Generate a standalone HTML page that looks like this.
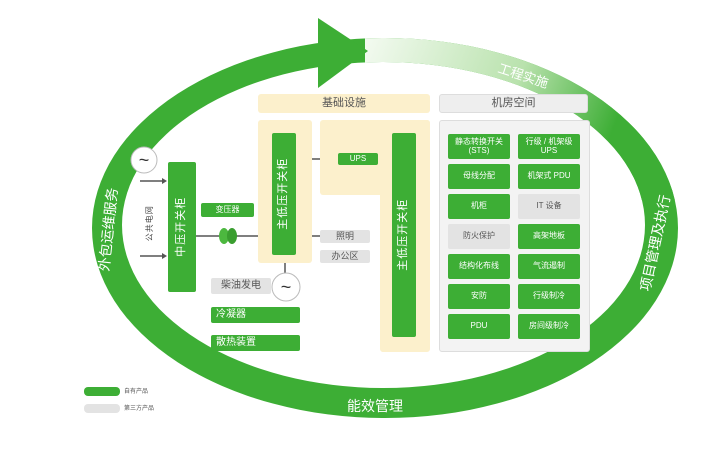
<!DOCTYPE html>
<html><head><meta charset="utf-8"><style>
body{margin:0;width:713px;height:470px;background:#fff;overflow:hidden;position:relative;font-family:"Liberation Sans","Noto Sans CJK SC",sans-serif}
.a{position:absolute;box-sizing:border-box;display:flex;align-items:center;justify-content:center;text-align:center;line-height:1.05}
.g{background:#3dae35;color:#fff;border-radius:2px}
.gr{background:#e3e3e3;color:#555;border-radius:2px}
.y{background:#fcf0cc;border-radius:3px}
.v span{transform:rotate(-90deg);white-space:nowrap;display:block;letter-spacing:1px}
.t{font-size:8px}
</style></head><body>
<svg width="713" height="470" style="position:absolute;left:0;top:0">
<defs>
<clipPath id="ring"><path clip-rule="evenodd" d="M92,228a293,190 0 1,0 586,0a293,190 0 1,0 -586,0ZM122,225a261.5,163 0 1,0 523,0a261.5,163 0 1,0 -523,0Z"/></clipPath>
<linearGradient id="fade" x1="367" y1="45" x2="650" y2="160" gradientUnits="userSpaceOnUse">
<stop offset="0" stop-color="#f2faef"/><stop offset="0.5" stop-color="#b9e2ad"/><stop offset="0.85" stop-color="#3dae35"/><stop offset="1" stop-color="#3dae35"/></linearGradient>
</defs>
<path fill="#3dae35" fill-rule="evenodd" d="M92,228a293,190 0 1,0 586,0a293,190 0 1,0 -586,0ZM122,225a261.5,163 0 1,0 523,0a261.5,163 0 1,0 -523,0Z"/>
<rect x="365" y="0" width="340" height="200" fill="url(#fade)" clip-path="url(#ring)"/>
<polygon points="318,18 368,51 318,88" fill="#3dae35"/>
<text x="497" y="72" font-size="13" fill="#fff" transform="rotate(18 497 72)" font-family="Noto Sans CJK SC">工程实施</text>
<text x="375" y="411" font-size="14" fill="#fff" text-anchor="middle" font-family="Noto Sans CJK SC">能效管理</text>
<text x="113" y="230" font-size="14" fill="#fff" text-anchor="middle" transform="rotate(-84 113 230)" font-family="Noto Sans CJK SC">外包运维服务</text>
<text x="660" y="244" font-size="14" fill="#fff" text-anchor="middle" transform="rotate(-78 660 244)" font-family="Noto Sans CJK SC">项目管理及执行</text>
<g stroke="#555" stroke-width="1.5" fill="none">
<line x1="140" y1="181" x2="162" y2="181"/><line x1="140" y1="256" x2="162" y2="256"/>
<line x1="196" y1="236" x2="320" y2="236"/>
<line x1="285" y1="255" x2="285" y2="274"/>
<line x1="296" y1="159" x2="330" y2="159"/><line x1="378" y1="159" x2="388" y2="159"/>
</g>
<g fill="#555"><polygon points="162,178 167,181 162,184"/><polygon points="162,253 167,256 162,259"/><polygon points="330,156 336,159 330,162"/><polygon points="387,156 392,159 387,162"/></g>
<circle cx="144" cy="160" r="13" fill="#fff" stroke="#bbb"/>
<text x="144" y="166" font-size="18" text-anchor="middle" fill="#333">~</text>
<circle cx="286" cy="287" r="14" fill="#fff" stroke="#bbb"/>
<text x="286" y="293" font-size="18" text-anchor="middle" fill="#333">~</text>
<ellipse cx="224" cy="236" rx="5" ry="8" fill="#4cb83f"/><ellipse cx="232" cy="236" rx="5" ry="8" fill="#3a9e30"/>
</svg>
<div class="a y" style="left:258px;top:94px;width:172px;height:19px;font-size:11px;color:#555">基础设施</div>
<div class="a y" style="left:258px;top:120px;width:54px;height:143px"></div>
<div class="a y" style="left:320px;top:120px;width:110px;height:75px"></div>
<div class="a y" style="left:380px;top:120px;width:50px;height:232px"></div>
<div class="a" style="left:439px;top:94px;width:149px;height:19px;font-size:11px;color:#555;background:#eee;border:1px solid #ddd;border-radius:3px">机房空间</div>
<div class="a" style="left:439px;top:120px;width:151px;height:232px;background:#f3f3f3;border:1px solid #ddd;border-radius:3px"></div>
<div class="a g v" style="left:272px;top:133px;width:24px;height:122px;font-size:11px"><span>主低压开关柜</span></div>
<div class="a g v" style="left:392px;top:133px;width:24px;height:204px;font-size:11px"><span>主低压开关柜</span></div>
<div class="a g t" style="left:338px;top:153px;width:40px;height:12px">UPS</div>
<div class="a g v" style="left:168px;top:162px;width:28px;height:130px;font-size:11px"><span>中压开关柜</span></div>
<div class="a v t" style="left:144px;top:205px;width:12px;height:36px;color:#444"><span>公共电网</span></div>
<div class="a g t" style="left:201px;top:203px;width:53px;height:14px">变压器</div>
<div class="a gr" style="left:320px;top:230px;width:50px;height:13px;font-size:9px">照明</div>
<div class="a gr" style="left:320px;top:250px;width:50px;height:13px;font-size:9px">办公区</div>
<div class="a gr" style="left:211px;top:278px;width:60px;height:16px;font-size:10px">柴油发电</div>
<div class="a g" style="left:211px;top:307px;width:89px;height:16px;font-size:10px;justify-content:flex-start;padding-left:5px">冷凝器</div>
<div class="a g" style="left:211px;top:335px;width:89px;height:16px;font-size:10px;justify-content:flex-start;padding-left:5px">散热装置</div>
<div class="a g t" style="left:448px;top:134px;width:62px;height:25px">静态转换开关<br>(STS)</div>
<div class="a g t" style="left:518px;top:134px;width:62px;height:25px">行级 / 机架级<br>UPS</div>
<div class="a g t" style="left:448px;top:164px;width:62px;height:25px">母线分配</div>
<div class="a g t" style="left:518px;top:164px;width:62px;height:25px">机架式 PDU</div>
<div class="a g t" style="left:448px;top:194px;width:62px;height:25px">机柜</div>
<div class="a gr t" style="left:518px;top:194px;width:62px;height:25px">IT 设备</div>
<div class="a gr t" style="left:448px;top:224px;width:62px;height:25px">防火保护</div>
<div class="a g t" style="left:518px;top:224px;width:62px;height:25px">高架地板</div>
<div class="a g t" style="left:448px;top:254px;width:62px;height:25px">结构化布线</div>
<div class="a g t" style="left:518px;top:254px;width:62px;height:25px">气流遏制</div>
<div class="a g t" style="left:448px;top:284px;width:62px;height:25px">安防</div>
<div class="a g t" style="left:518px;top:284px;width:62px;height:25px">行级制冷</div>
<div class="a g t" style="left:448px;top:314px;width:62px;height:25px">PDU</div>
<div class="a g t" style="left:518px;top:314px;width:62px;height:25px">房间级制冷</div>
<div class="a g" style="left:84px;top:387px;width:36px;height:9px;border-radius:4px"></div>
<div class="a gr" style="left:84px;top:404px;width:36px;height:9px;border-radius:4px"></div>
<div style="position:absolute;left:124px;top:386px;font-size:6px;color:#555">自有产品</div>
<div style="position:absolute;left:124px;top:403px;font-size:6px;color:#555">第三方产品</div>
</body></html>
